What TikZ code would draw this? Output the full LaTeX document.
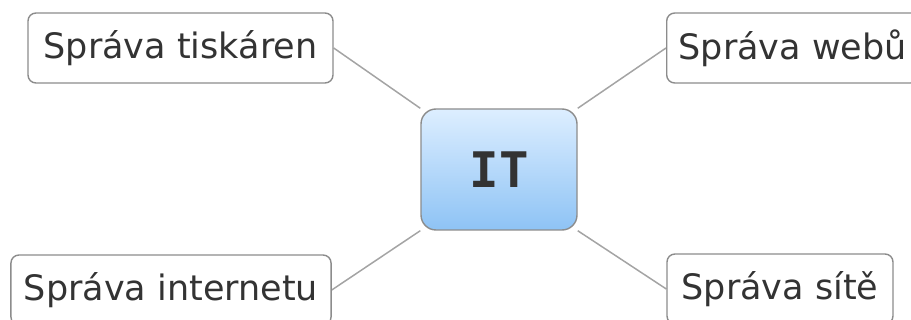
\documentclass[tikz,border=0pt]{standalone}
\usepackage{fontspec}
\setmainfont{DejaVu Sans}
\newfontfamily\itfont{DejaVu Sans Mono}
\usetikzlibrary{backgrounds}
\definecolor{txtc}{HTML}{333333}
\definecolor{bordc}{HTML}{8C8C8C}
\definecolor{linkc}{HTML}{A4A4A4}
\definecolor{topblue}{HTML}{DDEEFF}
\definecolor{botblue}{HTML}{8EC3F5}
\tikzset{
  leaf/.style={draw=bordc, line width=1.4pt, rounded corners=8pt, fill=white,
    minimum height=70pt, inner xsep=13pt, inner ysep=0pt, text=txtc,
    font=\fontsize{35}{40}\selectfont},
  hub/.style={draw=bordc, line width=1.4pt, rounded corners=15pt,
    top color=topblue, bottom color=botblue, minimum width=156pt,
    minimum height=121pt, text=txtc, font=\itfont\bfseries\fontsize{49}{56}\selectfont},
  link/.style={draw=linkc, line width=1.5pt}
}
\begin{document}
\begin{tikzpicture}[x=1pt,y=-1pt]
\useasboundingbox (0,0) rectangle (911,320);
\node[hub] (c) at (499,169.5) {IT};
\node[leaf, minimum width=305pt] (tl) at (180.5,48) {Správa tiskáren};
\node[leaf, anchor=west, inner xsep=12pt] (tr) at (666,48) {Správa webů};
\node[leaf, minimum width=320pt] (bl) at (171,290) {Správa internetu};
\node[leaf, minimum width=226pt] (br) at (780,289) {Správa sítě};
\begin{scope}[on background layer]
\draw[link] (tl.east) -- (c.north west);
\draw[link] (tr.west) -- (c.north east);
\draw[link] (bl.east) -- (c.south west);
\draw[link] (br.west) -- (c.south east);
\end{scope}
\end{tikzpicture}
\end{document}
